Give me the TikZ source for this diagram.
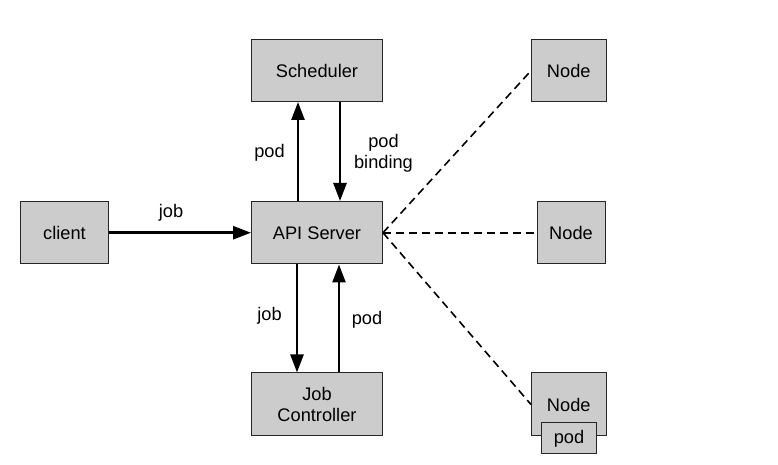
\documentclass[tikz,border=0pt]{standalone}
\usepackage{fontspec}
\setmainfont{Liberation Sans}
\usetikzlibrary{arrows.meta}
\definecolor{boxfill}{HTML}{CCCCCC}
\begin{document}
\begin{tikzpicture}[x=1bp,y=1bp,
  box/.style={draw=black!85, fill=boxfill, line width=1bp, inner sep=0pt, font=\fontsize{18.3}{21}\selectfont, align=center},
  lbl/.style={inner sep=0pt, font=\fontsize{18.3}{21}\selectfont, align=center},
  arr/.style={line width=2.6bp, -{Triangle[length=18bp,width=13bp]}},
  dsh/.style={line width=1.6bp, dash pattern=on 8bp off 5bp}]
\useasboundingbox[fill=white] (0,0) rectangle (778,465);
\node[box, minimum width=131bp, minimum height=61.5bp] (sched) at (317,394.25) {Scheduler};
\node[box, minimum width=131bp, minimum height=62.5bp] (api) at (317,232.25) {API Server};
\node[box, minimum width=87bp, minimum height=62bp] (client) at (64.5,232.5) {client};
\node[box, minimum width=131bp, minimum height=63bp] (jc) at (317,60.5) {Job\\Controller};
\node[box, minimum width=74.5bp, minimum height=61.5bp] (n1) at (568.75,394.25) {Node};
\node[box, minimum width=68bp, minimum height=62bp] (n2) at (571,232.25) {Node};
\node[box, minimum width=74.5bp, minimum height=63bp] (n3) at (568.75,60.5) {Node};
\node[box, minimum width=55bp, minimum height=31bp] (pod) at (569,26.5) {pod};
% arrows
\draw[arr] (client.east |- api.west) -- (api.west);
\draw[arr] ([xshift=-19bp]api.north) -- ([xshift=-19bp]sched.south);
\draw[arr] ([xshift=23bp]sched.south) -- ([xshift=23bp]api.north);
\draw[arr] ([xshift=-20bp]api.south) -- ([xshift=-20bp]jc.north);
\draw[arr] ([xshift=22bp]jc.north) -- ([xshift=22bp]api.south);
% dashed
\draw[dsh] (api.east) -- (n1.west);
\draw[dsh] (api.east) -- (n2.west);
\draw[dsh] (api.east) -- (n3.west);
% labels
\node[lbl] (l1) at (171,252) {job};
\node[lbl] (l2) at (269.5,312) {pod};
\node[lbl] (l3) at (383.5,312) {pod\\binding};
\node[lbl] (l4) at (269.5,149) {job};
\node[lbl] (l5) at (367,145) {pod};
\end{tikzpicture}
\end{document}
